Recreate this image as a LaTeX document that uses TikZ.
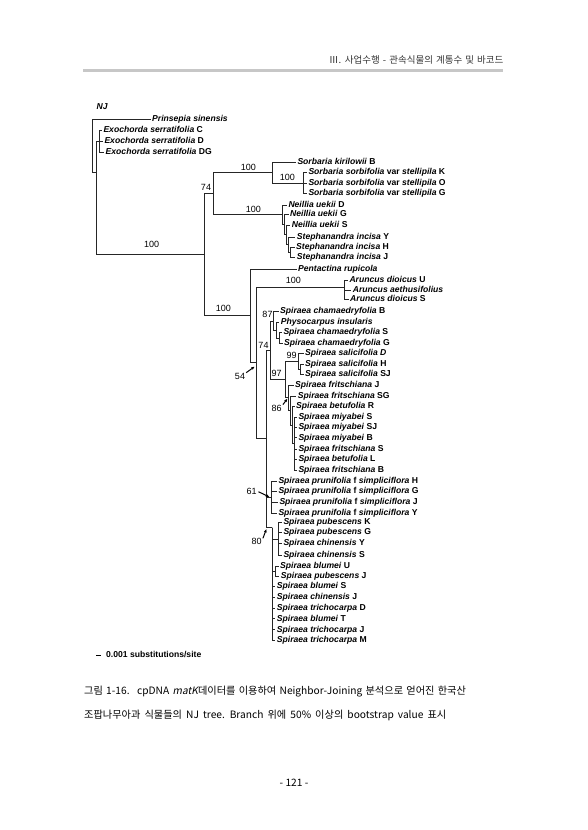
\documentclass[tikz,border=0pt]{standalone}
\usepackage{fontspec}
\setsansfont{Liberation Sans}
\newfontfamily\krfont{Noto Sans CJK KR}
\newfontfamily\krslant[FakeSlant=0.2]{Noto Sans CJK KR}
\usepackage{tikz}
\usetikzlibrary{arrows.meta,positioning}
\tikzstyle{branch} = [draw=black!85, line width=0.7pt]
\tikzstyle{taxon} = [anchor=west, inner xsep=1.5pt, inner ysep=0pt, text height=6.2pt, text depth=1.8pt, font=\fontsize{8.6}{9.5}\selectfont\sffamily\bfseries]
\tikzstyle{boot} = [inner sep=0pt, font=\fontsize{9}{10}\selectfont\sffamily]
\tikzstyle{pointer} = [-{Latex[length=3.5pt,width=3pt]}, line width=1pt]
\tikzstyle{pagetext} = [inner sep=0pt, font=\krfont]
\newcommand{\wordgap}[1]{\spaceskip=#1\relax}

\begin{document}
\begin{tikzpicture}[x=1pt, y=-1pt]
    \fill[white] (0,0) rectangle (587,830);
    \useasboundingbox (0,0) rectangle (587,830);

    % running head
    \node[pagetext, anchor=east, text=black!80, font=\krfont\fontsize{9.5}{11}\selectfont] (head) at (503.5,60) {\wordgap{0.32em}Ⅲ. 사업수행 - 관속식물의 계통수 및 바코드};
    \draw[line width=3.5pt, black!22] (83,70.5) -- (503,70.5);

    \node[taxon, font=\fontsize{8.6}{9.5}\selectfont\sffamily\bfseries\itshape] (nj) at (95,107.5) {NJ};

    % outgroup
    \coordinate (root) at (92,119);
    \coordinate (nA) at (96,172);
    \coordinate (nExo) at (99,141);
    \node[taxon] (prin) at (150.5,119) {\textit{Prinsepia sinensis}};
    \node[taxon] (exoC) at (101.8,130) {\textit{Exochorda serratifolia} C};
    \node[taxon] (exoD) at (102.8,141) {\textit{Exochorda serratifolia} D};
    \node[taxon] (exoDG) at (104,152) {\textit{Exochorda serratifolia} DG};
    \draw[branch] (root) |- (prin);
    \draw[branch] (root) |- (nA);
    \draw[branch] (nA) |- (nExo);
    \draw[branch] (nExo) |- (exoC); \draw[branch] (nExo) |- (exoD); \draw[branch] (nExo) |- (exoDG);

    \coordinate (nB) at (204,254);
    \draw[branch] (nA) |- (nB);
    \node[boot] (bsB) at (151.7,244) {100};

    % Sorbaria / Neillia / Stephanandra
    \coordinate (n74) at (213,193);
    \draw[branch] (nB) |- (n74);
    \node[boot] (bs74) at (206,187.5) {74};

    \coordinate (nSorb) at (272,172.5);
    \coordinate (nStel) at (303,183);
    \draw[branch] (n74) |- (nSorb);
    \node[boot] (bsSorb) at (248.3,167) {100};
    \node[taxon] (kiri) at (295.8,162.5) {\textit{Sorbaria kirilowii} B};
    \draw[branch] (nSorb) |- (kiri);
    \draw[branch] (nSorb) |- (nStel);
    \node[boot] (bsStel) at (287.3,177.3) {100};
    \node[taxon] (stelK) at (306.8,172.7) {\textit{Sorbaria sorbifolia} var \textit{stellipila} K};
    \node[taxon] (stelO) at (306.8,183.3) {\textit{Sorbaria sorbifolia} var \textit{stellipila} O};
    \node[taxon] (stelG) at (306.8,193.7) {\textit{Sorbaria sorbifolia} var \textit{stellipila} G};
    \draw[branch] (nStel) |- (stelK); \draw[branch] (nStel) |- (stelO); \draw[branch] (nStel) |- (stelG);

    \coordinate (nNei) at (282,214.7);
    \coordinate (nNei2) at (284,224.4);
    \coordinate (nNei3) at (286,234.8);
    \coordinate (nSte) at (288,244.5);
    \coordinate (nSte2) at (290,252.3);
    \draw[branch] (n74) |- (nNei);
    \node[boot] (bsNei) at (253.3,209.8) {100};
    \node[taxon] (neiD) at (286.8,205) {\textit{Neillia uekii} D};
    \node[taxon] (neiG) at (288.5,214) {\textit{Neillia uekii} G};
    \node[taxon] (neiS) at (290.2,225) {\textit{Neillia uekii} S};
    \node[taxon] (steY) at (295.2,237.3) {\textit{Stephanandra incisa} Y};
    \node[taxon] (steH) at (294.5,247.3) {\textit{Stephanandra incisa} H};
    \node[taxon] (steJ) at (295.2,257.3) {\textit{Stephanandra incisa} J};
    \draw[branch] (nNei) |- (neiD); \draw[branch] (nNei) |- (nNei2);
    \draw[branch] (nNei2) |- (neiG); \draw[branch] (nNei2) |- (nNei3);
    \draw[branch] (nNei3) |- (neiS); \draw[branch] (nNei3) |- (nSte);
    \draw[branch] (nSte) |- (steY); \draw[branch] (nSte) |- (nSte2);
    \draw[branch] (nSte2) |- (steH); \draw[branch] (nSte2) |- (steJ);

    % Pentactina / Aruncus
    \coordinate (nX) at (250,315);
    \coordinate (nY) at (256,362);
    \coordinate (nArun) at (344,287);
    \draw[branch] (nB) |- (nX);
    \node[boot] (bsX) at (223.3,308) {100};
    \node[taxon] (pent) at (296.5,269) {\textit{Pentactina rupicola}};
    \draw[branch] (nX) |- (pent);
    \draw[branch] (nX) |- (nY);
    \draw[branch] (nY) |- (nArun);
    \node[boot] (bsArun) at (293.3,280.5) {100};
    \node[taxon] (arunU) at (347.8,280) {\textit{Aruncus dioicus} U};
    \node[taxon] (arunAe) at (351.2,290) {\textit{Aruncus aethusifolius}};
    \node[taxon] (arunS) at (348.5,299.5) {\textit{Aruncus dioicus} S};
    \draw[branch] (nArun) |- (arunU); \draw[branch] (nArun) |- (arunAe); \draw[branch] (nArun) |- (arunS);
    \node[boot] (bs54) at (240,376) {54};
    \coordinate (t54) at (254.8,366.5);
    \draw[pointer] ([xshift=1pt]bs54.north east) -- (t54);

    % Spiraea
    \coordinate (nSpi) at (266,438);
    \draw[branch] (nY) |- (nSpi);

    \coordinate (n74b) at (270,350.5);
    \coordinate (n87) at (273,321);
    \coordinate (n87b) at (276,330.2);
    \coordinate (n87c) at (279,338);
    \draw[branch] (nSpi) |- (n74b);
    \node[boot] (bs74b) at (263.5,345.3) {74};
    \draw[branch] (n74b) |- (n87);
    \node[boot] (bs87) at (267.5,314.3) {87};
    \node[taxon] (chamB) at (278.5,311.7) {\textit{Spiraea chamaedryfolia} B};
    \node[taxon] (phys) at (279.2,322.3) {\textit{Physocarpus insularis}};
    \node[taxon] (chamS) at (281.8,332.7) {\textit{Spiraea chamaedryfolia} S};
    \node[taxon] (chamG) at (282.5,343.3) {\textit{Spiraea chamaedryfolia} G};
    \draw[branch] (n87) |- (chamB); \draw[branch] (n87) |- (n87b);
    \draw[branch] (n87b) |- (phys); \draw[branch] (n87b) |- (n87c);
    \draw[branch] (n87c) |- (chamS); \draw[branch] (n87c) |- (chamG);

    \coordinate (n97) at (285,379.5);
    \coordinate (n99) at (298,361);
    \coordinate (n99b) at (300.5,369);
    \draw[branch] (n74b) |- (n97);
    \node[boot] (bs97) at (276.7,373.3) {97};
    \draw[branch] (n97) |- (n99);
    \node[boot] (bs99) at (291.7,355.3) {99};
    \node[taxon] (salD) at (303.5,353.3) {\textit{Spiraea salicifolia D}};
    \node[taxon] (salH) at (303.5,364) {\textit{Spiraea salicifolia} H};
    \node[taxon] (salSJ) at (303.5,374.3) {\textit{Spiraea salicifolia} SJ};
    \draw[branch] (n99) |- (salD); \draw[branch] (n99) |- (n99b);
    \draw[branch] (n99b) |- (salH); \draw[branch] (n99b) |- (salSJ);

    \coordinate (nF1) at (288,397.8);
    \coordinate (nF2) at (290,410.6);
    \coordinate (nF3) at (292,425.2);
    \coordinate (nF4) at (294.5,443.7);
    \draw[branch] (n97) |- (nF1);
    \node[taxon] (fritJ) at (293.5,385) {\textit{Spiraea fritschiana} J};
    \node[taxon] (fritSG) at (296.2,396) {\textit{Spiraea fritschiana} SG};
    \node[taxon] (betR) at (294.5,406.7) {\textit{Spiraea betufolia} R};
    \node[taxon] (miyS) at (296.8,417.3) {\textit{Spiraea miyabei} S};
    \node[taxon] (miySJ) at (296.8,427.7) {\textit{Spiraea miyabei} SJ};
    \node[taxon] (miyB) at (296.8,437.8) {\textit{Spiraea miyabei} B};
    \node[taxon] (fritS) at (296.8,449) {\textit{Spiraea fritschiana} S};
    \node[taxon] (betL) at (296.8,459.3) {\textit{Spiraea betufolia} L};
    \node[taxon] (fritB) at (296.8,470) {\textit{Spiraea fritschiana} B};
    \draw[branch] (nF1) |- (fritJ); \draw[branch] (nF1) |- (nF2);
    \draw[branch] (nF2) |- (fritSG); \draw[branch] (nF2) |- (nF3);
    \draw[branch] (nF3) |- (betR); \draw[branch] (nF3) |- (nF4);
    \draw[branch] (nF4) |- (miyS); \draw[branch] (nF4) |- (miySJ); \draw[branch] (nF4) |- (miyB);
    \draw[branch] (nF4) |- (fritS); \draw[branch] (nF4) |- (betL); \draw[branch] (nF4) |- (fritB);
    \node[boot] (bs86) at (276.7,408) {86};
    \coordinate (t86) at (287.5,398.5);
    \draw[pointer] ([xshift=1pt]bs86.north east) -- (t86);

    \coordinate (nPru) at (271,497.5);
    \coordinate (n80) at (272,527.5);
    \draw[branch] (nSpi) |- (nPru);
    \draw[branch] (nSpi) |- (n80);
    \node[taxon] (pruH) at (276.8,481.7) {\textit{Spiraea prunifolia} f \textit{simpliciflora} H};
    \node[taxon] (pruG) at (276.8,491.7) {\textit{Spiraea prunifolia} f \textit{simpliciflora} G};
    \node[taxon] (pruJ) at (277.8,502.7) {\textit{Spiraea prunifolia} f \textit{simpliciflora} J};
    \node[taxon] (pruY) at (276.8,513.3) {\textit{Spiraea prunifolia} f \textit{simpliciflora} Y};
    \draw[branch] (nPru) |- (pruH); \draw[branch] (nPru) |- (pruG);
    \draw[branch] (nPru) |- (pruJ); \draw[branch] (nPru) |- (pruY);
    \node[boot] (bs61) at (251.7,491.7) {61};
    \coordinate (t61) at (269.5,497);
    \draw[pointer] ([xshift=1.5pt]bs61.east) -- (t61);

    \coordinate (nPub) at (278,539);
    \coordinate (nBlu) at (275,571.7);
    \draw[branch] (n80) |- (nPub);
    \draw[branch] (n80) |- (nBlu);
    \node[taxon] (pubK) at (281.8,522.3) {\textit{Spiraea pubescens} K};
    \node[taxon] (pubG) at (281.8,532.7) {\textit{Spiraea pubescens} G};
    \node[taxon] (chiY) at (281.8,543.3) {\textit{Spiraea chinensis} Y};
    \node[taxon] (chiS) at (281.8,555.7) {\textit{Spiraea chinensis} S};
    \draw[branch] (nPub) |- (pubK); \draw[branch] (nPub) |- (pubG);
    \draw[branch] (nPub) |- (chiY); \draw[branch] (nPub) |- (chiS);
    \node[taxon] (bluU) at (278.5,566.7) {\textit{Spiraea blumei} U};
    \node[taxon] (pubJ) at (279.2,576.7) {\textit{Spiraea pubescens} J};
    \draw[branch] (nBlu) |- (bluU); \draw[branch] (nBlu) |- (pubJ);
    \node[taxon] (bluS) at (275.2,586.5) {\textit{Spiraea blumei} S};
    \node[taxon] (chiJ) at (275.2,597.3) {\textit{Spiraea chinensis} J};
    \node[taxon] (triD) at (275.2,608) {\textit{Spiraea trichocarpa} D};
    \node[taxon] (bluT) at (275.2,618.8) {\textit{Spiraea blumei} T};
    \node[taxon] (triJ) at (275.2,629.8) {\textit{Spiraea trichocarpa} J};
    \node[taxon] (triM) at (275.2,640.5) {\textit{Spiraea trichocarpa} M};
    \draw[branch] (n80) |- (bluS); \draw[branch] (n80) |- (chiJ); \draw[branch] (n80) |- (triD);
    \draw[branch] (n80) |- (bluT); \draw[branch] (n80) |- (triJ); \draw[branch] (n80) |- (triM);
    \node[boot] (bs80) at (256.7,541.7) {80};
    \coordinate (t80) at (266.5,528.8);
    \draw[pointer] ([xshift=1pt]bs80.north east) -- (t80);

    % scale
    \coordinate (sbL) at (96,655);
    \coordinate (sbR) at (101,655);
    \draw[line width=0.9pt] (sbL) -- (sbR);
    \node[taxon] (sbText) at (104.5,655) {0.001 substitutions/site};

    % caption and folio
    \node[pagetext, anchor=west, font=\krfont\fontsize{10.2}{12}\selectfont] (cap1) at (84,691.5) {\wordgap{0.32em}그림 1-16.\hspace{0.35em} cpDNA {\krslant matK}데이터를 이용하여 Neighbor-Joining 분석으로 얻어진 한국산};
    \node[pagetext, anchor=west, font=\krfont\fontsize{10.2}{12}\selectfont] (cap2) at (84,715) {\wordgap{0.4em}조팝나무아과 식물들의 NJ tree. Branch 위에 50\% 이상의 bootstrap value 표시};
    \node[pagetext, font=\krfont\fontsize{10.2}{12}\selectfont] (folio) at (294,783) {- 121 -};
\end{tikzpicture}
\end{document}
